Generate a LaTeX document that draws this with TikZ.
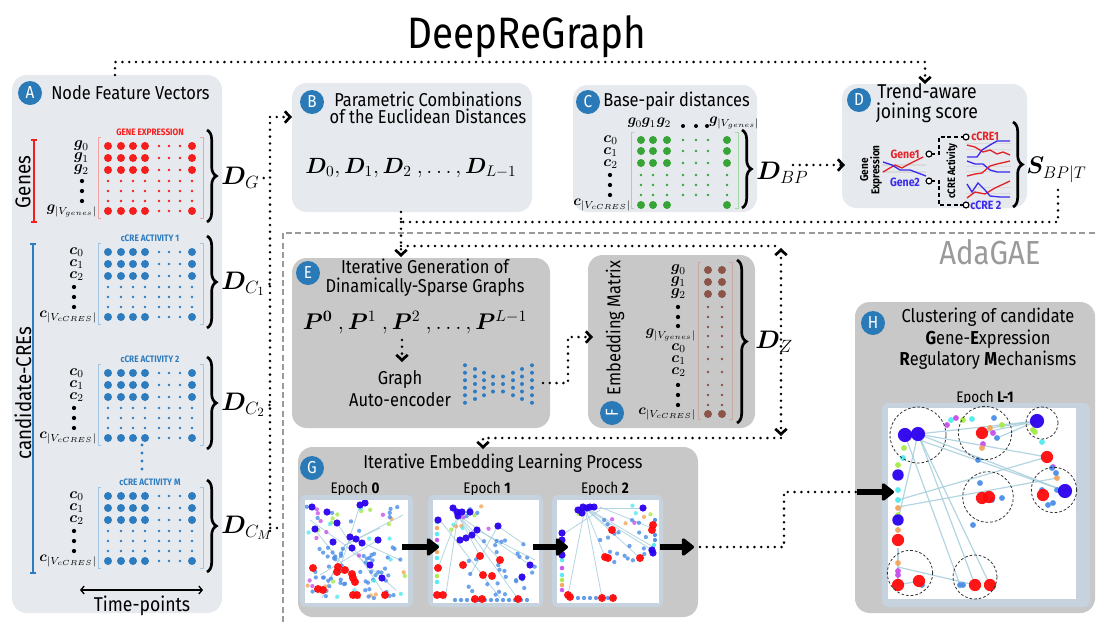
\documentclass[tikz,border=0pt]{standalone}
\usepackage{fix-cm}
\usepackage{amsmath,bm}
\usepackage{fontspec}
\setmainfont{Fira Sans}[FakeStretch=0.88]
\usetikzlibrary{arrows.meta,decorations.pathreplacing}

\definecolor{panelL}{HTML}{E6E9ED}
\definecolor{panelD}{HTML}{C8C8C8}
\definecolor{badgeC}{HTML}{2A7AB8}
\definecolor{mred}{HTML}{F41E1E}
\definecolor{mblue}{HTML}{2D7CC0}
\definecolor{mgreen}{HTML}{36A436}
\definecolor{mbrown}{HTML}{8C5347}
\definecolor{bred}{HTML}{F4A3A3}
\definecolor{bblue}{HTML}{A3C6E2}
\definecolor{bgreen}{HTML}{A6D8A6}
\definecolor{bbrown}{HTML}{C9AAA2}
\definecolor{frameC}{HTML}{C6D2DE}
\definecolor{edgeC}{HTML}{A6CEDC}
\definecolor{pblue}{HTML}{2B00EE}
\definecolor{pred}{HTML}{FF0A0A}
\definecolor{plb}{HTML}{4A8EE8}
\definecolor{pcy}{HTML}{52EAF0}
\definecolor{pgr}{HTML}{A6EA48}
\definecolor{por}{HTML}{F2A55C}
\definecolor{ppu}{HTML}{C850EA}
\definecolor{adagae}{HTML}{9A9A9A}
\definecolor{gline}{HTML}{DADADA}
\definecolor{tred}{HTML}{E42428}
\definecolor{tblue}{HTML}{3A2AF0}

\newcommand\fsz[1]{\fontsize{#1}{#1}\selectfont}

\tikzset{
  lpanel/.style={fill=panelL, rounded corners=11pt},
  dpanel/.style={fill=panelD, rounded corners=11pt},
  badge/.style={circle, fill=badgeC, text=white, minimum size=18pt, inner sep=0pt, font=\fsz{13}},
  ttl/.style={font=\fontsize{14}{14}\selectfont, align=center, inner sep=0pt},
  dotln/.style={line width=2.1pt, dash pattern=on 0pt off 5.1pt, line cap=round},
  barb/.tip={Straight Barb[length=4pt,width=8.5pt,line width=2pt]},
  dotarr/.style={dotln, -barb},
  dotarrb/.style={dotln, barb-barb},
  bigarr/.style={line width=4pt, -{Triangle[length=10pt,width=15pt,round]}},
  lab/.style={inner sep=0pt, font=\fsz{11.5}},
  labw/.style={inner sep=0pt, font=\fsz{11}},
  dlab/.style={inner sep=0pt, font=\fsz{19}},
  mbrace/.style={decorate, decoration={brace, amplitude=7pt}, line width=2pt},
  cluster/.style={dash pattern=on 2pt off 1.5pt, line width=0.6pt, black!80},
  edg/.style={edgeC, line width=0.6pt, opacity=.85},
}

% activity matrix of panel A: #1 first row y, #2 dot colour, #3 bracket colour, #4 heading
\newcommand\actmatrix[4]{%
  \node[font=\bfseries\fsz{7}, text=#2, inner sep=0pt] at (150,#1-14) {#4};
  \draw[#3, line width=0.7pt] (101,#1-9) -- (98,#1-9) -- (98,#1+72) -- (101,#1+72);
  \draw[#3, line width=0.7pt] (200,#1-9) -- (203,#1-9) -- (203,#1+72) -- (200,#1+72);
  \foreach \yy/\rb in {0/1,12/1,24/1,35/0,45/0,55/0,65/1}{
    \foreach \xx/\cb in {108/1,121/1,133/1,145/1,159/0,169/0,180/0,192/1}{
      \pgfmathtruncatemacro\bb{\rb*\cb}
      \ifnum\bb=1 \fill[#2] (\xx,#1+\yy) circle[radius=3pt];
      \else \fill[#2] (\xx,#1+\yy) circle[radius=1.1pt];\fi
    }}
  \draw[mbrace] (207,#1-16) -- (207,#1+76);
}
% row labels of a cCRE matrix
\newcommand\crows[1]{%
  \node[lab,anchor=east] at (84,#1) {$\bm c_0$};
  \node[lab,anchor=east] at (84,#1+12) {$\bm c_1$};
  \node[lab,anchor=east] at (84,#1+24) {$\bm c_2$};
  \foreach \yy in {35,45,55} \fill (74,#1+\yy) circle[radius=1.6pt];
  \node[labw,anchor=east] at (97,#1+65) {$\bm c_{|V_{cCRES}|}$};
}
% list of dots: colour, radius, list of points
\newcommand\scat[3]{\foreach \p in {#3} \fill[#1, opacity=.95] \p circle[radius=#2];}
% scattered small dots: seed, count, x0, width, y0, height, mixed colours (0/1)
\newcommand\rscat[7]{%
  \pgfmathsetseed{#1}%
  \foreach \i in {1,...,#2}{%
    \pgfmathsetmacro\rx{#3+#4*rnd}%
    \pgfmathsetmacro\ry{#5+#6*rnd}%
    \pgfmathtruncatemacro\k{#7*(1+mod(\i,6))}%
    \ifcase\k\def\cc{plb}\or\def\cc{plb}\or\def\cc{pcy}\or\def\cc{por}\or\def\cc{pgr}\or\def\cc{ppu}\or\def\cc{plb}\fi
    \fill[fill=\cc, opacity=.8] (\rx,\ry) circle[radius=1.6pt];}}

\begin{document}
\begin{tikzpicture}[x=0.75pt,y=-0.75pt]
\useasboundingbox (0,0) rectangle (1097,622);
\fill[white] (0,0) rectangle (1097,622);

\node[font=\fsz{33}, anchor=base, inner sep=0pt] (title) at (527,48) {DeepReGraph};

% ---------------- panels
\fill[lpanel] (12,75) rectangle (222,613);
\fill[lpanel] (292,83) rectangle (532,212);
\fill[lpanel] (573,85) rectangle (757,212);
\fill[lpanel] (842,84) rectangle (1027,208);
\fill[dpanel] (292,258) rectangle (550,428);
\fill[dpanel] (588,255) rectangle (755,428);
\fill[dpanel] (298,447) rectangle (698,617);
\fill[dpanel] (855,302) rectangle (1095,613);

% AdaGAE region
\draw[adagae, line width=1pt, dash pattern=on 4.5pt off 2.5pt] (283,622) -- (283,233) -- (1097,233);
\node[font=\fsz{25}, text=adagae, inner sep=0pt] (ada) at (990,252) {AdaGAE};

% ---------------- A: node feature vectors
\node[badge] (bA) at (30,93) {A};
\node[ttl, anchor=west] (tA) at (51,93) {Node Feature Vectors};
\draw[mred, line width=1pt] (34,140) -- (34,222) (31,140) -- (37,140) (31,222) -- (37,222);
\node[rotate=90, font=\fsz{16}, inner sep=0pt] (genes) at (23,182) {Genes};
\draw[mblue, line width=1pt] (33,244) -- (33,573) (30,244) -- (36,244) (30,573) -- (36,573);
\node[rotate=90, font=\fsz{16}, inner sep=0pt] (cands) at (23,393) {candidate-CREs};

\actmatrix{146}{mred}{bred}{GENE EXPRESSION}
\node[lab,anchor=east] at (89,146) {$\bm g_0$};
\node[lab,anchor=east] at (89,158) {$\bm g_1$};
\node[lab,anchor=east] at (89,170) {$\bm g_2$};
\foreach \yy in {181,191,201} \fill (82,\yy) circle[radius=1.6pt];
\node[labw,anchor=east] at (97,211) {$\bm g_{|V_{genes}|}$};

\actmatrix{252}{mblue}{bblue}{cCRE ACTIVITY 1}
\crows{252}
\actmatrix{373}{mblue}{bblue}{cCRE ACTIVITY 2}
\crows{373}
\foreach \yy in {445,453,461,469} \fill[mblue] (142,\yy) circle[radius=1.3pt];
\actmatrix{496}{mblue}{bblue}{cCRE ACTIVITY M}
\crows{496}

\node[dlab, anchor=west] (dG) at (221,178) {$\bm D_{G}$};
\node[dlab, anchor=west] (dC1) at (221,284) {$\bm D_{C_1}$};
\node[dlab, anchor=west] (dC2) at (221,405) {$\bm D_{C_2}$};
\node[dlab, anchor=west] (dCM) at (221,528) {$\bm D_{C_M}$};

\draw[{Straight Barb[length=2.5pt,width=6pt,line width=1pt]}-{Straight Barb[length=2.5pt,width=6pt,line width=1pt]}, line width=1pt] (80,590) -- (203,590);
\node[font=\fsz{15}, inner sep=0pt] (tp) at (142,606) {Time-points};

% collecting dotted line towards B
\coordinate (hubT) at (270,117);
\coordinate (hubB) at (270,531);
\foreach \n in {dG,dC1,dC2,dCM} \draw[dotln] ([xshift=3pt]\n.east) -- (\n.east -| hubT);
\draw[dotln] (hubB) -- (hubT);

% ---------------- B
\node[badge] (bB) at (312,102) {B};
\node[ttl, font=\fontsize{14}{12.8}\selectfont] (tB) at (428,108) {Parametric Combinations\\of the Euclidean Distances};
\node[font=\fsz{16.5}, inner sep=0pt] (mB) at (411,168) {$\bm D_0,\bm D_1,\bm D_2\ ,\dots,\bm D_{L-1}$};
\coordinate (Bin) at (292,117);
\draw[dotarr] (hubT) -- (Bin);

% ---------------- C
\node[badge] (bC) at (588,102) {C};
\node[ttl, anchor=west] (tC) at (603,101) {Base-pair distances};
\node[labw] at (635,123) {$\bm g_0$};
\node[labw] at (649,123) {$\bm g_1$};
\node[labw] at (664,123) {$\bm g_2$};
\foreach \xx in {683,696,707} \fill (\xx,126) circle[radius=1.5pt];
\node[labw, anchor=west] at (709,123) {$\bm g_{|V_{genes}|}$};
\node[lab,anchor=east] at (618,140) {$\bm c_0$};
\node[lab,anchor=east] at (618,152) {$\bm c_1$};
\node[lab,anchor=east] at (618,164) {$\bm c_2$};
\foreach \yy in {175,185,195} \fill (610,\yy) circle[radius=1.6pt];
\node[labw,anchor=east] at (631,205) {$\bm c_{|V_{cCRES}|}$};
\draw[bgreen, line width=0.7pt] (634,132) -- (631,132) -- (631,208) -- (634,208);
\draw[bgreen, line width=0.7pt] (735,132) -- (738,132) -- (738,208) -- (735,208);
\foreach \yy/\rb in {140/1,151/1,163/1,175/0,185/0,195/0}{
  \foreach \xx/\cb in {641/1,653/1,667/1,683/0,696/0,708/0,727/1}{
    \pgfmathtruncatemacro\bb{\rb*\cb}
    \ifnum\bb=1 \fill[mgreen] (\xx,\yy) circle[radius=3pt];
    \else \fill[mgreen] (\xx,\yy) circle[radius=1.1pt];\fi}}
\foreach \xx in {641,653,667,727} \fill[mgreen] (\xx,205) circle[radius=3pt];
\draw[mbrace] (742,130) -- (742,208);
\node[dlab, anchor=west] (dBP) at (756,173) {$\bm D_{BP}$};
\coordinate (Din) at (845,165);
\draw[dotarr] (793,165) -- (Din);

% ---------------- D
\node[badge] (bD) at (859,100) {D};
\node[ttl, font=\fontsize{15}{15.5}\selectfont] (tD) at (927,103) {Trend-aware\\joining score};
\node[rotate=90, font=\bfseries\fontsize{8.5}{8.5}\selectfont, align=center, inner sep=0pt] (gex) at (871,170) {Gene\\Expression};
\draw[gline, line width=0.8pt] (882,165) -- (926,165) (882,172) -- (926,172);
\draw[tred, line width=1pt] (883,172) -- (895,165) -- (902,168) -- (909,164) -- (923,157);
\draw[tblue, line width=1pt] (883,162) -- (892,165) -- (900,170) -- (910,170) -- (918,173) -- (926,176);
\node[font=\bfseries\fsz{9}, text=tred, inner sep=0pt] (g1) at (905,154) {Gene1};
\node[font=\bfseries\fsz{9}, text=tblue, inner sep=0pt] (g2) at (905,182) {Gene2};
\draw[dash pattern=on 3pt off 2pt, line width=0.9pt] (931,154) -| (939,137) -- (964,137);
\draw[dash pattern=on 3pt off 2pt, line width=0.9pt] (931,181) -| (939,205) -- (963,205);
\draw[fill=white, line width=0.9pt] (929,154) circle[radius=2.2pt] (929,181) circle[radius=2.2pt]
  (966,137) circle[radius=2.2pt] (966,205) circle[radius=2.2pt];
\node[rotate=90, font=\bfseries\fsz{8}, inner sep=0pt] (cact) at (952,171) {cCRE Activity};
\node[font=\bfseries\fsz{9}, text=tred, inner sep=0pt, anchor=west] (c1) at (971,136) {cCRE1};
\node[font=\bfseries\fsz{9}, text=tblue, inner sep=0pt, anchor=west] (c2) at (970,205) {cCRE 2};
\draw[gline, line width=0.7pt] (966,143) -- (1011,143) (966,149) -- (1011,149)
  (966,166) -- (1011,166) (966,171) -- (1011,171) (966,187) -- (1011,187) (966,193) -- (1011,193);
\draw[tred, line width=1pt] (967,145) -- (975,147) -- (983,152) -- (990,150) -- (997,154) -- (1003,152) -- (1010,155);
\draw[tblue, line width=1pt] (967,157) -- (977,157) -- (982,150) -- (990,145) -- (997,141) -- (1010,141);
\draw[tblue, line width=1pt] (967,161) -- (975,164) -- (983,164) -- (990,170) -- (997,172) -- (1010,172);
\draw[tred, line width=1pt] (967,176) -- (975,174) -- (982,173) -- (990,166) -- (997,164) -- (1010,161);
\draw[tred, line width=1pt] (967,198) -- (975,192) -- (985,194) -- (995,188) -- (1010,181);
\draw[tblue, line width=1pt] (967,184) -- (972,192) -- (978,183) -- (985,190) -- (990,196) -- (1000,197) -- (1010,197);
\draw[mbrace] (1013,122) -- (1013,207);
\node[inner sep=0pt, anchor=west, font=\fsz{18}] (sBP) at (1026,170) {$\bm S_{BP|T}$};

% top connection A -> D
\coordinate (Atop) at (115,75);
\coordinate (Dtop) at (925,84);
\draw[dotarr] (Atop) -- (115,62) -- (925,62) -- (Dtop);

% S and B feed E
\coordinate (sOut) at (1058,190);
\coordinate (join) at (401,222);
\coordinate (Bout) at (401,212);
\coordinate (Ein) at (401,257);
\draw[dotln] (sOut) |- (join);
\draw[dotln] (Bout) -- (join);
\draw[dotarr] (join) -- (Ein);

% ---------------- E
\node[badge] (bE) at (308,273) {E};
\node[ttl, font=\fontsize{14}{14.2}\selectfont] (tE) at (425,278) {Iterative Generation of\\Dinamically-Sparse Graphs};
\node[font=\fsz{17}, inner sep=0pt] (mE) at (415,322) {$\bm P^{\bm 0}\ ,\bm P^{1}\ ,\bm P^{2}\ ,\dots,\bm P^{L-1}$};
\draw[dotarr] (402,340) -- (402,362);
\node[ttl, font=\fontsize{14}{16.5}\selectfont] (gae) at (400,389) {Graph\\Auto-encoder};
\foreach \cx/\n in {465/6,475/5,484/4,493/3,503/3,513/4,522/5,532/6}{
  \foreach \j in {1,...,\n}{\fill[mblue] (\cx,{384+7.5*(\j-(\n+1)/2)}) circle[radius=1.5pt];}}
\coordinate (aeOut) at (543,383);
\coordinate (Fin) at (593,337);
\draw[dotarr] (aeOut) -- (568,383) -- (568,337) -- (Fin);

% ---------------- F
\node[badge, rotate=90] (bF) at (612,413) {F};
\node[ttl, rotate=90] (tF) at (615,328) {Embedding Matrix};
\node[lab,anchor=east] at (686,270) {$\bm g_0$};
\node[lab,anchor=east] at (686,282) {$\bm g_1$};
\node[lab,anchor=east] at (686,294) {$\bm g_2$};
\foreach \yy in {307,317,326} \fill (678,\yy) circle[radius=1.6pt];
\node[labw,anchor=east] at (696,335) {$\bm g_{|V_{genes}|}$};
\node[lab,anchor=east] at (686,348) {$\bm c_0$};
\node[lab,anchor=east] at (686,360) {$\bm c_1$};
\node[lab,anchor=east] at (686,372) {$\bm c_2$};
\foreach \yy in {385,395,405} \fill (678,\yy) circle[radius=1.6pt];
\node[labw,anchor=east] at (696,414) {$\bm c_{|V_{cCRES}|}$};
\draw[bbrown, line width=0.7pt] (701,262) -- (698,262) -- (698,419) -- (701,419);
\draw[bbrown, line width=0.7pt] (729,262) -- (732,262) -- (732,419) -- (729,419);
\foreach \xx in {708,722}{
  \foreach \yy in {270,282,294,414} \fill[mbrown] (\xx,\yy) circle[radius=3pt];
  \foreach \yy in {307,317,327,336,347,359,372,385,395,405} \fill[mbrown] (\xx,\yy) circle[radius=1.1pt];}
\draw[mbrace] (737,260) -- (737,423);
\node[dlab, anchor=west] (dZ) at (755,342) {$\bm D_{Z}$};

% feedback loop around F
\coordinate (loopT) at (781,246);
\coordinate (loopB) at (781,438);
\coordinate (Gin) at (483,449);
\draw[dotln] (401,246) -- (loopT);
\draw[dotarrb] (781,248) -- (781,436);
\draw[dotarr] (loopB) -- (483,438) -- (Gin);

% ---------------- G
\node[badge] (bG) at (312,468) {G};
\node[ttl] (tG) at (503,463) {Iterative Embedding Learning Process};
\node[font=\fsz{11.5}, inner sep=0pt] (e0) at (355,489) {Epoch \textbf{0}};
\node[font=\fsz{11.5}, inner sep=0pt] (e1) at (487,489) {Epoch \textbf{1}};
\node[font=\fsz{11.5}, inner sep=0pt] (e2) at (605,489) {Epoch \textbf{2}};
\fill[frameC, rounded corners=4pt] (300,495) rectangle (413,607);
\fill[frameC, rounded corners=4pt] (428,495) rectangle (543,607);
\fill[frameC, rounded corners=4pt] (552,495) rectangle (663,607);
\fill[white] (305,500) rectangle (408,603);
\fill[white] (433,500) rectangle (539,603);
\fill[white] (557,500) rectangle (659,603);

% epoch 0
\begin{scope}
\clip (305,500) rectangle (408,603);
\foreach \a/\b in {{(345,545)}/{(310,520)},{(345,545)}/{(322,598)},{(345,545)}/{(380,528)},{(345,545)}/{(403,515)},{(345,545)}/{(396,590)},{(345,545)}/{(330,580)},{(360,505)}/{(340,568)},{(315,530)}/{(355,580)},{(378,540)}/{(320,575)},{(337,523)}/{(385,595)},{(350,537)}/{(400,560)}}
  \draw[edg] \a -- \b;
\rscat{11}{50}{312}{94}{545}{56}{0}
\rscat{17}{55}{306}{100}{505}{95}{1}
\scat{pblue}{2.7pt}{(312,507),(327,512),(360,505),(365,503),(315,529),(337,523),(350,537),(356,539),(362,543),(352,548),(333,542),(378,540),(370,565),(382,578)}
\scat{pred}{3pt}{(313,568),(338,567),(337,572),(345,570),(352,574),(353,578),(355,582),(318,589),(323,590),(353,595),(357,595),(385,595)}
\end{scope}

% epoch 1
\begin{scope}
\clip (433,500) rectangle (539,603);
\foreach \a/\b in {{(458,515)}/{(480,556)},{(458,515)}/{(500,560)},{(458,515)}/{(530,565)},{(458,515)}/{(438,568)},{(458,515)}/{(518,599)},{(458,515)}/{(445,600)},{(498,526)}/{(470,575)},{(498,526)}/{(525,545)},{(477,530)}/{(535,560)},{(440,520)}/{(500,598)}}
  \draw[edg] \a -- \b;
\scat{pcy}{1.7pt}{(437,522),(437,534),(437,546),(437,558),(437,582)}
\scat{por}{1.7pt}{(437,528),(437,552)}
\scat{ppu}{1.7pt}{(437,540)}
\scat{pgr}{1.7pt}{(437,576)}
\foreach \xx in {455,461,...,530} \fill[plb, opacity=.85] (\xx,600) circle[radius=1.6pt];
\rscat{23}{30}{468}{68}{540}{55}{0}
\rscat{29}{14}{443}{55}{505}{25}{1}
\scat{pblue}{2.7pt}{(453,508),(457,512),(462,512),(458,516),(470,512),(438,520),(477,530),(472,535),(466,538),(460,540),(498,526),(530,565),(522,577)}
\scat{pred}{3pt}{(480,556),(500,560),(463,565),(483,575),(492,576),(438,568),(437,595),(443,595),(475,599),(482,599),(518,599)}
\end{scope}

% epoch 2
\begin{scope}
\clip (557,500) rectangle (659,603);
\foreach \a/\b in {{(585,508)}/{(612,530)},{(585,508)}/{(652,550)},{(585,508)}/{(605,557)},{(585,508)}/{(568,595)},{(585,508)}/{(602,598)},{(585,508)}/{(640,558)},{(585,508)}/{(643,508)},{(562,535)}/{(600,510)},{(600,507)}/{(652,528)},{(590,510)}/{(655,548)}}
  \draw[edg] \a -- \b;
\scat{pcy}{1.7pt}{(562,545),(562,560),(562,575)}
\scat{por}{1.7pt}{(562,552),(562,585)}
\scat{ppu}{1.7pt}{(562,568),(562,590)}
\scat{pgr}{1.7pt}{(562,580)}
\foreach \xx in {578,584,...,618} \fill[plb, opacity=.85] (\xx,598) circle[radius=1.6pt];
\scat{plb}{1.6pt}{(655,520),(655,535),(655,540)}
\scat{pcy}{1.6pt}{(654,545)}
\rscat{31}{18}{600}{55}{520}{45}{0}
\rscat{37}{10}{575}{80}{505}{20}{1}
\scat{pblue}{2.7pt}{(578,510),(583,507),(587,508),(590,507),(594,507),(582,513),(643,508),(562,533),(562,540),(562,555),(652,550),(653,553)}
\scat{pred}{3pt}{(653,525),(612,530),(652,530),(605,557),(608,558),(640,558),(568,595),(570,597),(602,598),(613,598)}
\end{scope}

\draw[bigarr] (402,547) -- (439,547);
\draw[bigarr] (533,547) -- (568,547);
\draw[bigarr] (660,547) -- (694,547);
\coordinate (Gout) at (700,547);
\coordinate (Hin) at (857,492);
\draw[dotln] (Gout) -- (784,547) -- (784,492) -- (Hin);

% ---------------- H
\node[badge] (bH) at (873,323) {H};
\node[ttl, font=\fontsize{14}{16.2}\selectfont] (tH) at (988,339) {Clustering of candidate\\\textbf{G}ene-\textbf{E}xpression\\\textbf{R}egulatory \textbf{M}echanisms};
\node[font=\fsz{11.5}, inner sep=0pt] (eL) at (985,398) {Epoch \textbf{L-1}};
\fill[frameC, rounded corners=5pt] (882,403) rectangle (1090,607);
\fill[white] (888,408) rectangle (1076,599);
\begin{scope}
\clip (888,408) rectangle (1076,599);
\foreach \a/\b in {{(918,434)}/{(1037,421)},{(918,434)}/{(1065,491)},{(918,434)}/{(1047,457)},{(918,434)}/{(975,585)},{(918,434)}/{(990,585)},{(918,434)}/{(898,520)},{(905,435)}/{(1065,491)},{(905,435)}/{(960,585)},{(898,500)}/{(1047,457)},{(898,507)}/{(1057,478)},{(982,433)}/{(1037,421)},{(990,428)}/{(1037,421)},{(997,438)}/{(1037,421)},{(898,567)}/{(975,585)},{(898,548)}/{(898,585)},{(898,585)}/{(919,581)}}
  \draw[edg, line width=0.9pt] \a -- \b;
\scat{pcy}{2.2pt}{(951,420),(972,419),(898,490),(898,500),(1042,442),(903,458)}
\scat{ppu}{2.2pt}{(947,425),(956,418),(993,433),(983,444),(1053,467),(898,575),(898,571)}
\scat{pgr}{2.2pt}{(963,420),(1002,425),(904,448),(1033,430),(1035,432),(898,465),(898,515),(993,585)}
\scat{por}{2.2pt}{(990,428),(1057,478),(898,508),(898,530),(898,563),(982,448)}
\scat{plb}{2.2pt}{(994,418),(997,438),(978,460),(980,483),(992,500),(1002,498),(973,525),(1056,473),(1048,505),(1053,503),(1057,490),(922,585),(960,585),(963,585),(1042,490),(1052,468)}
\scat{pblue}{5.3pt}{(905,435),(918,434),(1037,421),(1065,491)}
\scat{pblue}{4.3pt}{(898,475),(898,520)}
\scat{pred}{4.6pt}{(982,433),(1047,457),(982,498),(989,497),(1043,495),(898,540),(898,585),(919,581),(975,585),(990,585)}
\end{scope}
\draw[cluster] (918,435) circle[radius=21pt];
\draw[cluster] (985,433) circle[radius=20pt];
\draw[cluster] (1042,423) circle[radius=12pt];
\draw[cluster] (988,497) circle[radius=19pt];
\draw[cluster] (1054,490) circle[radius=17pt];
\draw[cluster] (910,573) circle[radius=17pt];
\draw[cluster] (975,577) circle[radius=16.5pt];
\draw[bigarr] (Hin) -- (894,492);
\end{tikzpicture}
\end{document}
